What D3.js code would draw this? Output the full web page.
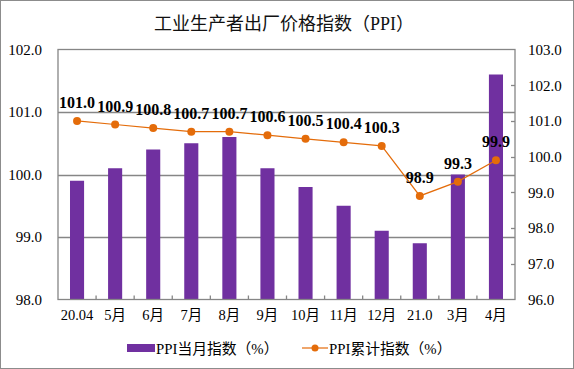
<!DOCTYPE html>
<html><head><meta charset="utf-8">
<script src="https://cdn.jsdelivr.net/npm/d3@7"></script>
<style>body{margin:0;background:#fff}svg{display:block}</style>
</head><body>
<svg id="c" width="574" height="369"></svg>
<script>
const categories = ["20.04","5月","6月","7月","8月","9月","10月","11月","12月","21.0","3月","4月"];
const monthly = [99.9,100.1,100.4,100.5,100.6,100.1,99.8,99.5,99.1,98.9,100.0,101.6];
const cumulative = [101.0,100.9,100.8,100.7,100.7,100.6,100.5,100.4,100.3,98.9,99.3,99.9];
const leftTicks = [98,99,100,101,102];
const rightTicks = [96,97,98,99,100,101,102,103];
const title = "工业生产者出厂价格指数（PPI）";
const legendBar = "PPI当月指数（%）";
const legendLine = "PPI累计指数（%）";

const W=574,H=369, L=58, R=515, T=49.5, B=299.5;
const svg=d3.select("#c");
const serif="'Liberation Serif','Times New Roman',serif";
const cjk="'Liberation Serif','Noto Sans CJK SC',serif";
const purple="#7030A0", orange="#E46C0A", grid="#868686";

svg.append("rect").attr("x",0.5).attr("y",0.5).attr("width",W-1).attr("height",H-1).attr("fill","#fff").attr("stroke","#8c8c8c");

svg.append("text").attr("x",284).attr("y",30).attr("text-anchor","middle")
  .attr("font-family",cjk).attr("font-size",18).attr("fill","#111").text(title);

const x=d3.scaleBand().domain(categories).range([L,R]).paddingInner(0.63).paddingOuter(0.315);
const xb=d3.scaleBand().domain(categories).range([L,R]);
const yL=d3.scaleLinear().domain([98,102]).range([B,T]);
const yR=d3.scaleLinear().domain([96,103]).range([B,T]);

// gridlines
svg.append("g").selectAll("line").data(leftTicks.slice(1,-1)).join("line")
 .attr("x1",L).attr("x2",R).attr("y1",d=>Math.round(yL(d))+0.5).attr("y2",d=>Math.round(yL(d))+0.5)
 .attr("stroke",grid).attr("stroke-width",1.3);

// bars
svg.append("g").selectAll("rect").data(monthly).join("rect")
 .attr("x",(d,i)=>x(categories[i])).attr("width",x.bandwidth())
 .attr("y",d=>yL(d)).attr("height",d=>B-yL(d)).attr("fill",purple);

// frame
svg.append("rect").attr("x",L).attr("y",T).attr("width",R-L).attr("height",B-T)
 .attr("fill","none").attr("stroke",grid).attr("stroke-width",1.3);

// left axis labels
const gl=svg.append("g").attr("transform",`translate(${L},0)`)
 .call(d3.axisLeft(yL).tickValues(leftTicks).tickFormat(d3.format(".1f")).tickSize(0).tickPadding(16));
gl.select(".domain").remove();
gl.selectAll("text").attr("font-family",serif).attr("font-size",15).attr("fill","#000");

// right axis (ticks inward)
const gr=svg.append("g").attr("transform",`translate(${R},0)`)
 .call(d3.axisRight(yR).tickValues(rightTicks).tickFormat(d3.format(".1f")).tickSize(0).tickPadding(13));
gr.select(".domain").remove();
gr.selectAll("text").attr("font-family",serif).attr("font-size",15).attr("fill","#000");
svg.append("g").selectAll("line").data(rightTicks.slice(1,-1)).join("line")
 .attr("x1",R-4).attr("x2",R).attr("y1",d=>Math.round(yR(d))+0.5).attr("y2",d=>Math.round(yR(d))+0.5)
 .attr("stroke",grid).attr("stroke-width",1.3);

// x axis
const boundaries=categories.slice(1).map(c=>xb(c));
svg.append("g").selectAll("line").data(boundaries).join("line")
 .attr("x1",d=>d).attr("x2",d=>d).attr("y1",B-4).attr("y2",B)
 .attr("stroke",grid).attr("stroke-width",1.3);
const gx=svg.append("g").attr("transform",`translate(0,${B})`)
 .call(d3.axisBottom(xb).tickSize(0).tickPadding(10));
gx.select(".domain").remove();
gx.selectAll("text").attr("font-family",cjk).attr("font-size",14.5).attr("fill","#000");

// line
const cx=(i)=>xb(categories[i])+xb.bandwidth()/2;
svg.append("path").datum(cumulative)
 .attr("d",d3.line().x((d,i)=>cx(i)).y(d=>yR(d)))
 .attr("fill","none").attr("stroke",orange).attr("stroke-width",1.2);
svg.append("g").selectAll("circle").data(cumulative).join("circle")
 .attr("cx",(d,i)=>cx(i)).attr("cy",d=>yR(d)).attr("r",4).attr("fill",orange);
svg.append("g").selectAll("text").data(cumulative).join("text")
 .attr("x",(d,i)=>cx(i)).attr("y",d=>yR(d)-13).attr("text-anchor","middle")
 .attr("font-family",serif).attr("font-weight","bold").attr("font-size",16).attr("fill","#000")
 .text(d=>d3.format(".1f")(d));

// legend
svg.append("rect").attr("x",127).attr("y",344).attr("width",28).attr("height",8).attr("fill",purple);
svg.append("text").attr("x",156).attr("y",354).attr("font-family",cjk).attr("font-size",14.8).text(legendBar);
svg.append("line").attr("x1",302).attr("x2",328).attr("y1",348).attr("y2",348).attr("stroke",orange).attr("stroke-width",1.2);
svg.append("circle").attr("cx",315).attr("cy",348).attr("r",3.5).attr("fill",orange);
svg.append("text").attr("x",329).attr("y",354).attr("font-family",cjk).attr("font-size",14.8).text(legendLine);
</script>
</body></html>
